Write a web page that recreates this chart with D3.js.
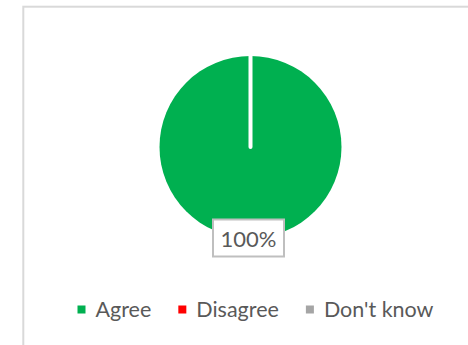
<!DOCTYPE html>
<html>
<head>
<meta charset="utf-8">
<script src="https://cdn.jsdelivr.net/npm/d3@7/dist/d3.min.js"></script>
<style>
  html, body { margin: 0; padding: 0; background: #fff; }
  svg { display: block; }
</style>
</head>
<body>
<svg id="chart" width="468" height="345"></svg>
<script>
// Survey response shares
const categories = ["Agree", "Disagree", "Don't know"];
const values = [100, 0, 0];
const colors = ["#00B050", "#FF0000", "#A5A5A5"];

const W = 468, H = 345;
const FONT = "Lato, 'Open Sans', sans-serif";
const TEXT = "#595959";

const svg = d3.select("#chart");

// Chart frame
svg.append("rect")
  .attr("x", 23.3).attr("y", 6.7)
  .attr("width", 520).attr("height", 420)
  .attr("fill", "#fff")
  .attr("stroke", "#D9D9D9")
  .attr("stroke-width", 2);

const cx = 250.5, cy = 147, r = 91;
const total = d3.sum(values);

const pie = d3.pie().sort(null).value(d => d)(values);
const arc = d3.arc().innerRadius(0).outerRadius(r);

const g = svg.append("g").attr("transform", `translate(${cx},${cy})`);

// Slices
g.selectAll("path.slice")
  .data(pie.filter(d => d.value > 0))
  .join("path")
  .attr("class", "slice")
  .attr("d", arc)
  .attr("fill", d => colors[d.index]);

// White slice borders along each slice's starting radius
g.selectAll("line.edge")
  .data(pie.filter(d => d.value > 0))
  .join("line")
  .attr("class", "edge")
  .attr("x1", 0).attr("y1", 0)
  .attr("x2", d => Math.sin(d.startAngle) * (r + 2))
  .attr("y2", d => -Math.cos(d.startAngle) * (r + 2))
  .attr("stroke", "#fff")
  .attr("stroke-width", 4)
  .attr("stroke-linecap", "round");

// Data labels, boxed, centred on the slice's outer edge at its mid-angle
const fmt = v => Math.round(v / total * 100) + "%";
pie.filter(d => d.value > 0).forEach(d => {
  const a = (d.startAngle + d.endAngle) / 2;
  const lx = Math.sin(a) * r, ly = -Math.cos(a) * r;
  const lg = g.append("g").attr("transform", `translate(${lx - 2},${ly})`);
  const box = lg.append("rect")
    .attr("fill", "#fff")
    .attr("stroke", "#BFBFBF")
    .attr("stroke-width", 2);
  lg.append("text")
    .attr("text-anchor", "middle")
    .attr("y", 8.5)
    .attr("font-family", FONT)
    .attr("font-size", 22)
    .attr("fill", TEXT)
    .text(fmt(d.value));
  const bw = 71, bh = 37;
  box.attr("x", -bw / 2).attr("y", -bh / 2).attr("width", bw).attr("height", bh);
});

// Legend
const legendY = 317;
const sq = 8, gapIn = 10, gapOut = 27;
const lgG = svg.append("g");
const items = lgG.selectAll("g.item").data(categories).join("g").attr("class", "item");
items.append("rect")
  .attr("width", sq).attr("height", sq)
  .attr("y", legendY - 11.5)
  .attr("fill", (d, i) => colors[i]);
items.append("text")
  .attr("x", sq + gapIn)
  .attr("y", legendY)
  .attr("font-family", FONT)
  .attr("font-size", 21.5)
  .attr("fill", TEXT)
  .text(d => d);

let x = 0;
const offsets = [];
items.each(function () {
  const tw = d3.select(this).select("text").node().getComputedTextLength();
  offsets.push(x);
  x += sq + gapIn + tw + gapOut;
});
const totalW = x - gapOut;
const startX = 255.5 - totalW / 2;
items.attr("transform", (d, i) => `translate(${startX + offsets[i]},0)`);
</script>
</body>
</html>
